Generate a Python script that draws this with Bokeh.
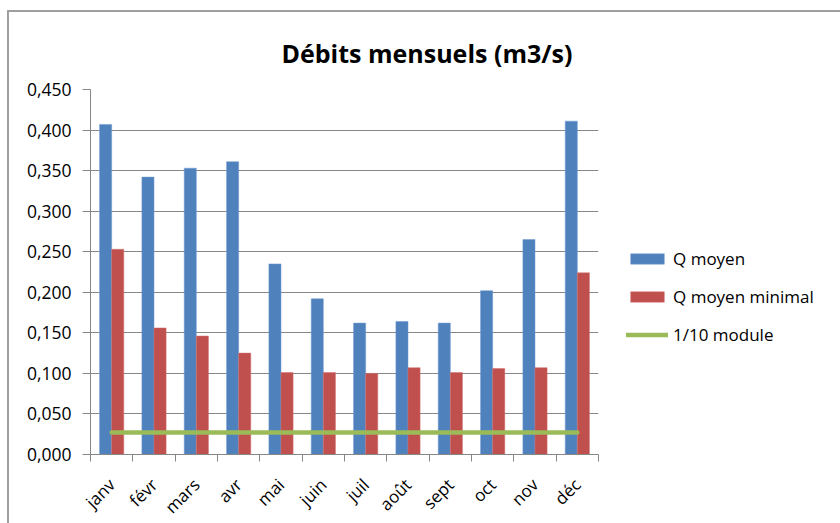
import numpy as np
from bokeh.plotting import figure
from bokeh.models import (ColumnDataSource, FixedTicker, CustomJSTickFormatter, Range1d,
                          Legend, LegendItem)
from bokeh.transform import dodge
from bokeh.embed import file_html
from bokeh.resources import INLINE

months = ["janv", "févr", "mars", "avr", "mai", "juin", "juil", "août", "sept", "oct", "nov", "déc"]
q_moyen = [0.407, 0.342, 0.353, 0.361, 0.235, 0.192, 0.162, 0.164, 0.162, 0.202, 0.265, 0.411]
q_min = [0.253, 0.156, 0.146, 0.125, 0.101, 0.101, 0.100, 0.107, 0.101, 0.106, 0.107, 0.224]
module_10 = [0.027] * 12
y_ticks = [0.0, 0.05, 0.10, 0.15, 0.20, 0.25, 0.30, 0.35, 0.40, 0.45]

FONT = "Open Sans"
BLUE = "#4F81BD"
RED = "#C0504D"
GREEN = "#9BBB59"
GRID = "#878787"

xpos = list(range(1, len(months) + 1))
src = ColumnDataSource(dict(x=xpos, q_moyen=q_moyen, q_min=q_min, module=module_10))

p = figure(frame_width=508, frame_height=365, output_backend="svg", toolbar_location=None,
           x_range=Range1d(0.5, 12.5), y_range=Range1d(0, 0.45),
           min_border_left=81, min_border_right=230, min_border_top=77, min_border_bottom=66)
p.styles = {"border-top": "2px solid #9F9F9F", "border-left": "2px solid #9F9F9F",
            "margin-top": "10px", "margin-left": "7px"}
p.outline_line_color = None
p.background_fill_color = "white"
p.border_fill_color = "white"

bw = 0.286
r1 = p.vbar(x=dodge("x", -bw / 2, range=p.x_range), top="q_moyen", width=bw, source=src,
            fill_color=BLUE, line_color="#6F9BD0", line_width=0.5)
r2 = p.vbar(x=dodge("x", bw / 2, range=p.x_range), top="q_min", width=bw, source=src,
            fill_color=RED, line_color="#D07070", line_width=0.5)
r3 = p.line(x="x", y="module", source=src, line_color=GREEN, line_width=4.5,
            line_cap="round")

# title
p.title.text = "Débits mensuels (m3/s)"
p.title.text_font = FONT
p.title.text_font_size = "25px"
p.title.text_font_style = "bold"
p.title.text_color = "black"
p.title.align = "left"
p.title.offset = 191
p.title.standoff = 40

# y axis
p.yaxis.ticker = FixedTicker(ticks=y_ticks)
p.yaxis.formatter = CustomJSTickFormatter(code="return tick.toFixed(3).replace('.', ',');")
p.yaxis.axis_line_color = GRID
p.yaxis.major_tick_line_color = GRID
p.yaxis.major_tick_out = 8
p.yaxis.major_tick_in = 0
p.yaxis.minor_tick_line_color = None
p.yaxis.major_label_text_font = FONT
p.yaxis.major_label_text_font_size = "17.5px"
p.yaxis.major_label_text_color = "black"
p.yaxis.major_label_standoff = 11

# x axis
p.xaxis.ticker = FixedTicker(ticks=xpos, minor_ticks=[i + 0.5 for i in range(0, 13)])
p.xaxis.major_label_overrides = {i + 1: m for i, m in enumerate(months)}
p.xaxis.major_label_orientation = np.pi / 4
p.xaxis.axis_line_color = GRID
p.xaxis.major_tick_line_color = None
p.xaxis.minor_tick_line_color = GRID
p.xaxis.minor_tick_out = 7
p.xaxis.minor_tick_in = 0
p.xaxis.major_label_text_font = FONT
p.xaxis.major_label_text_font_size = "17px"
p.xaxis.major_label_text_color = "black"
p.xaxis.major_label_standoff = 20

p.xgrid.grid_line_color = None
p.ygrid.ticker = FixedTicker(ticks=y_ticks)
p.ygrid.grid_line_color = GRID
p.ygrid.grid_line_width = 1

legend = Legend(items=[LegendItem(label="Q moyen", renderers=[r1]),
                       LegendItem(label="Q moyen minimal", renderers=[r2]),
                       LegendItem(label="1/10 module", renderers=[r3])],
                location=(28, 108), padding=0, margin=0, spacing=15,
                glyph_width=42, glyph_height=13, label_height=13, label_standoff=5,
                border_line_color=None, background_fill_alpha=0,
                label_text_font=FONT, label_text_font_size="17px", label_text_color="black")
p.add_layout(legend, "right")

with open("out.html", "w") as f:
    f.write(file_html(p, INLINE))
